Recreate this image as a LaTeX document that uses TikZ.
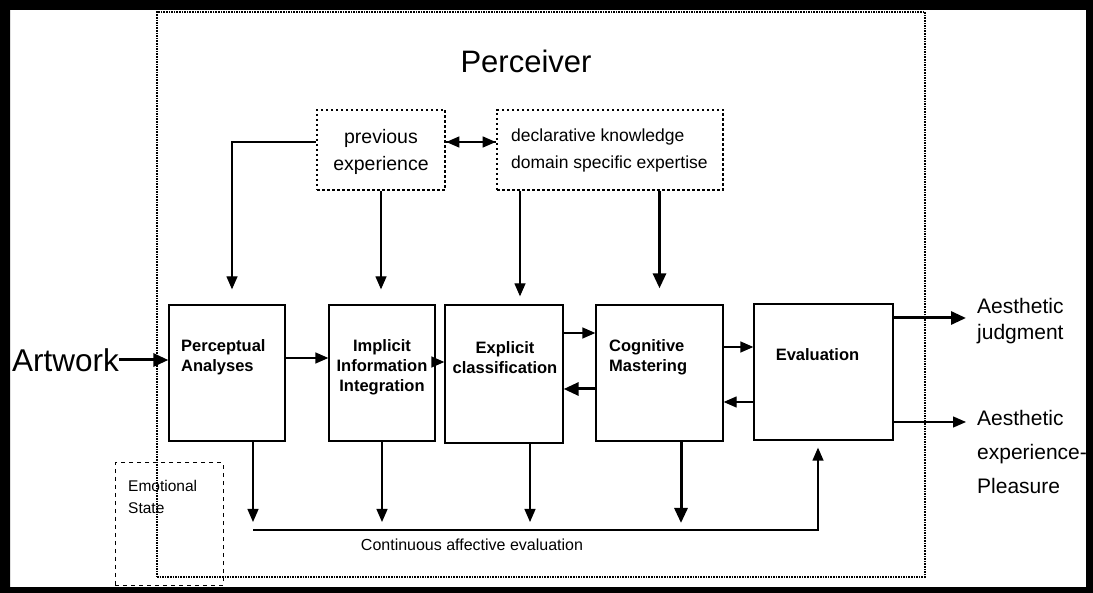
\documentclass[tikz,border=0pt]{standalone}
\usepackage{fontspec}
\setmainfont{Liberation Sans}
\usetikzlibrary{arrows.meta,calc}
\begin{document}
\begin{tikzpicture}[x=1pt,y=-1pt,
  stage/.style={draw,line width=1.3pt,inner sep=0pt},
  memory/.style={draw,line width=2.6pt,dash pattern=on 2.5pt off 2.5pt,inner sep=0pt},
  arr/.style={line width=1.3pt,-{Triangle[length=13pt,width=11pt]}},
  thickarr/.style={line width=3pt,-{Triangle[length=15pt,width=13pt]}},
  boxtxt/.style={font=\fontsize{16.5}{20}\selectfont\bfseries,inner sep=0pt},
  plain/.style={inner sep=0pt}]
\useasboundingbox (0,0) rectangle (1093,593);

% perceiver region
\node[draw,line width=1.6pt,dash pattern=on 1.6pt off 1pt,minimum width=768pt,minimum height=565pt,inner sep=0pt] (perc) at (541,294.5) {};
\node[plain,font=\fontsize{31}{31}\selectfont] (perc-t) at (526,61) {Perceiver};

% emotional state
\node[draw,line width=1pt,dash pattern=on 4pt off 4pt,minimum width=108pt,minimum height=122pt,inner sep=0pt] (emo) at (169,524) {};
\node[plain,anchor=west,align=left,font=\fontsize{15.5}{22}\selectfont] (emo-t) at (128,497) {Emotional\\State};

% memory boxes
\node[memory,minimum width=128pt,minimum height=80pt] (prev) at (381,150) {};
\node[plain,align=center,font=\fontsize{19.5}{27}\selectfont] (prev-t) at (381,152) {previous\\experience};
\node[memory,minimum width=226pt,minimum height=80pt] (dk) at (610,150) {};
\node[plain,anchor=west,align=left,font=\fontsize{17.5}{27}\selectfont] (dk-t) at (511,150) {declarative knowledge\\domain specific expertise};

% processing stages
\node[stage,minimum width=116pt,minimum height=136pt] (pa) at (227,373) {};
\node[stage,minimum width=106pt,minimum height=136pt] (ii) at (382,373) {};
\node[stage,minimum width=118pt,minimum height=138pt] (ec) at (504,374) {};
\node[stage,minimum width=127pt,minimum height=136pt] (cm) at (659.5,373) {};
\node[stage,minimum width=139pt,minimum height=136pt] (ev) at (823.5,372) {};

\node[boxtxt,anchor=west,align=left] (pa-t) at (181,357) {Perceptual\\Analyses};
\node[boxtxt,align=center] (ii-t) at (382,367.5) {Implicit\\Information\\Integration};
\node[boxtxt,align=center] (ec-t) at (505,357.5) {Explicit\\classification};
\node[boxtxt,anchor=west,align=left] (cm-t) at (609,357) {Cognitive\\Mastering};
\node[boxtxt] (ev-t) at (817.5,355) {Evaluation};

% input and outputs
\node[plain,font=\fontsize{31.5}{31.5}\selectfont] (art) at (65.5,360) {Artwork};
\node[plain,anchor=west,align=left,font=\fontsize{21}{26}\selectfont] (aj) at (977,321) {Aesthetic\\judgment};
\node[plain,anchor=west,align=left,font=\fontsize{21}{34}\selectfont] (ae) at (977,452) {Aesthetic\\experience-\\Pleasure};

\node[plain,font=\fontsize{16}{16}\selectfont] (cae-t) at (472,545) {Continuous affective evaluation};
\coordinate (cae-l) at (253,530);
\coordinate (cae-r) at (818,530);

% top-down influences
\draw[arr] ([yshift=8pt]prev.east) -- ([yshift=8pt]dk.west);
\draw[arr] ([yshift=8pt]dk.west) -- ([yshift=8pt]prev.east);
\draw[arr,shorten >=15pt] ([yshift=8pt]prev.west) -| ([xshift=5pt]pa.north);
\draw[arr,shorten >=15pt] (prev.south) -- (prev.south |- ii.north);
\draw[arr,shorten >=8pt] ([xshift=16pt]ec.north |- dk.south) -- ([xshift=16pt]ec.north);
\draw[thickarr,shorten >=16pt] (cm.north |- dk.south) -- (cm.north);

% main flow
\draw[thickarr] (art.east) -- (art.east -| pa.west);
\draw[arr] ([yshift=15pt]pa.east) -- ([yshift=15pt]pa.east -| ii.west);
\draw[arr] ([yshift=11pt]ii.east) -- ([yshift=11pt]ii.east -| ec.west);
\draw[arr] ([yshift=41pt]ec.east) -- ([yshift=41pt]ec.east -| cm.west);
\draw[thickarr] ([yshift=-16pt]cm.west) -- ([yshift=-16pt]cm.west -| ec.east);
\draw[arr] ([yshift=26pt]cm.east) -- ([yshift=26pt]cm.east -| ev.west);
\draw[arr] ([yshift=-30pt]ev.west) -- ([yshift=-30pt]ev.west -| cm.east);
\draw[thickarr,shorten >=11pt] ([yshift=54pt]ev.east) -- ([yshift=54pt]ev.east -| aj.west);
\draw[arr,shorten >=11pt] ([yshift=-50pt]ev.east) -- ([yshift=-50pt]ev.east -| ae.west);

% affective evaluation
\draw[arr,shorten >=8pt] ([xshift=26pt]pa.south) -- ([xshift=26pt]pa.south |- cae-l);
\draw[arr,shorten >=8pt] (ii.south) -- (ii.south |- cae-l);
\draw[arr,shorten >=8pt] ([xshift=26pt]ec.south) -- ([xshift=26pt]ec.south |- cae-l);
\draw[thickarr,shorten >=7pt] ([xshift=21.5pt]cm.south) -- ([xshift=21.5pt]cm.south |- cae-l);
\draw[arr,shorten >=7pt] (cae-l) -- (cae-r) -- (cae-r |- ev.south);

% frame
\fill[even odd rule] (0,0) rectangle (1093,593) (10,10) rectangle (1086,587);
\end{tikzpicture}
\end{document}
